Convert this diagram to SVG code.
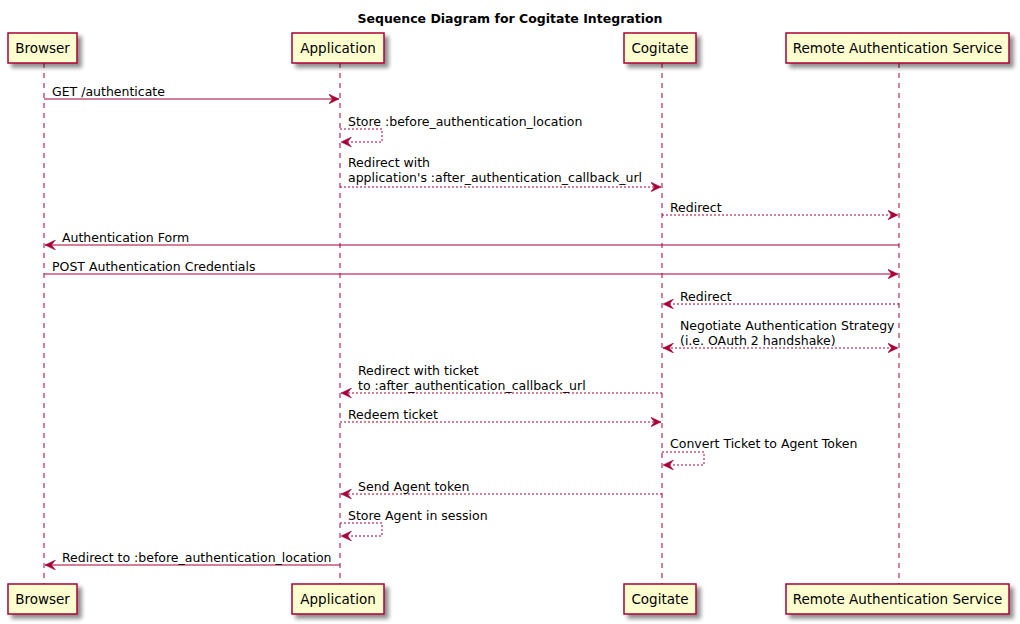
<svg xmlns="http://www.w3.org/2000/svg" width="1020" height="624" viewBox="0 0 1020 624">
<style>
.bg{fill:#ffffff}
.title{font-family:"DejaVu Sans",Verdana,sans-serif;font-size:12.5px;font-weight:bold;fill:#000}
.box{fill:#FEFECE;stroke:#A80036;stroke-width:1.5}
.pname{font-family:"DejaVu Sans",Verdana,sans-serif;font-size:13.5px;fill:#000;text-anchor:middle}
.life{stroke:#A80036;stroke-width:1;stroke-dasharray:5,5;fill:none}
.msg{stroke:#A80036;stroke-width:1;fill:none}
.dash{stroke-dasharray:2,2}
.lbl{font-family:"DejaVu Sans",Verdana,sans-serif;font-size:12.5px;fill:#000}
</style>
<defs>
<filter id="sh" x="-10%" y="-20%" width="130%" height="160%">
<feGaussianBlur in="SourceAlpha" stdDeviation="2"/>
<feOffset dx="4" dy="4" result="b"/>
<feComponentTransfer><feFuncA type="linear" slope="0.45"/></feComponentTransfer>
<feMerge><feMergeNode/><feMergeNode in="SourceGraphic"/></feMerge>
</filter>
<marker id="ah" viewBox="0 0 11 10" refX="10.5" refY="5" markerWidth="11" markerHeight="10" markerUnits="userSpaceOnUse" orient="auto-start-reverse">
<path d="M0,0 L10.5,5 L0,10 L4,5 Z" fill="#A80036" stroke="#A80036" stroke-width="0.5"/>
</marker>
</defs>
<rect class="bg" x="0" y="0" width="1020" height="624"/>
<text class="title" x="510" y="23" text-anchor="middle">Sequence Diagram for Cogitate Integration</text>

<g id="lifelines">
<line class="life" x1="44" y1="63" x2="44" y2="584"/>
<line class="life" x1="340" y1="63" x2="340" y2="584"/>
<line class="life" x1="662" y1="63" x2="662" y2="584"/>
<line class="life" x1="899" y1="63" x2="899" y2="584"/>
</g>

<g id="browser">
<rect class="box" filter="url(#sh)" x="8" y="33" width="69" height="30"/>
<text class="pname" x="42.5" y="53">Browser</text>
<rect class="box" filter="url(#sh)" x="8" y="584" width="69" height="30"/>
<text class="pname" x="42.5" y="604">Browser</text>
</g>
<g id="application">
<rect class="box" filter="url(#sh)" x="292" y="33" width="92" height="30"/>
<text class="pname" x="338" y="53">Application</text>
<rect class="box" filter="url(#sh)" x="292" y="584" width="92" height="30"/>
<text class="pname" x="338" y="604">Application</text>
</g>
<g id="cogitate">
<rect class="box" filter="url(#sh)" x="624" y="33" width="72" height="30"/>
<text class="pname" x="660" y="53">Cogitate</text>
<rect class="box" filter="url(#sh)" x="624" y="584" width="72" height="30"/>
<text class="pname" x="660" y="604">Cogitate</text>
</g>
<g id="remote">
<rect class="box" filter="url(#sh)" x="786" y="33" width="223" height="30"/>
<text class="pname" x="897.5" y="53">Remote Authentication Service</text>
<rect class="box" filter="url(#sh)" x="786" y="584" width="223" height="30"/>
<text class="pname" x="897.5" y="604">Remote Authentication Service</text>
</g>

<g id="connectors">
<line class="msg" x1="44" y1="99" x2="339" y2="99" marker-end="url(#ah)"/>
<path class="msg dash" d="M340,129 H382 V142 H341" marker-end="url(#ah)"/>
<line class="msg dash" x1="340" y1="187" x2="661" y2="187" marker-end="url(#ah)"/>
<line class="msg dash" x1="662" y1="215" x2="898" y2="215" marker-end="url(#ah)"/>
<line class="msg" x1="899" y1="245" x2="45" y2="245" marker-end="url(#ah)"/>
<line class="msg" x1="44" y1="274" x2="898" y2="274" marker-end="url(#ah)"/>
<line class="msg dash" x1="899" y1="304" x2="663" y2="304" marker-end="url(#ah)"/>
<line class="msg dash" x1="663" y1="348" x2="898" y2="348" marker-start="url(#ah)" marker-end="url(#ah)"/>
<line class="msg dash" x1="662" y1="393" x2="341" y2="393" marker-end="url(#ah)"/>
<line class="msg dash" x1="340" y1="422" x2="661" y2="422" marker-end="url(#ah)"/>
<path class="msg dash" d="M662,452 H704 V465 H663" marker-end="url(#ah)"/>
<line class="msg dash" x1="662" y1="494" x2="341" y2="494" marker-end="url(#ah)"/>
<path class="msg dash" d="M340,523 H382 V536 H341" marker-end="url(#ah)"/>
<line class="msg" x1="340" y1="565" x2="45" y2="565" marker-end="url(#ah)"/>
</g>

<g id="labels">
<text class="lbl" x="52" y="96">GET /authenticate</text>
<text class="lbl" x="348" y="126">Store :before_authentication_location</text>
<text class="lbl" x="348" y="167">Redirect with</text>
<text class="lbl" x="348" y="182">application's :after_authentication_callback_url</text>
<text class="lbl" x="670" y="212">Redirect</text>
<text class="lbl" x="62" y="242">Authentication Form</text>
<text class="lbl" x="52" y="271">POST Authentication Credentials</text>
<text class="lbl" x="680" y="301">Redirect</text>
<text class="lbl" x="680" y="330">Negotiate Authentication Strategy</text>
<text class="lbl" x="680" y="345">(i.e. OAuth 2 handshake)</text>
<text class="lbl" x="358" y="375">Redirect with ticket</text>
<text class="lbl" x="358" y="390">to :after_authentication_callback_url</text>
<text class="lbl" x="348" y="419">Redeem ticket</text>
<text class="lbl" x="670" y="448">Convert Ticket to Agent Token</text>
<text class="lbl" x="358" y="491">Send Agent token</text>
<text class="lbl" x="348" y="520">Store Agent in session</text>
<text class="lbl" x="62" y="562">Redirect to :before_authentication_location</text>
</g>
</svg>
